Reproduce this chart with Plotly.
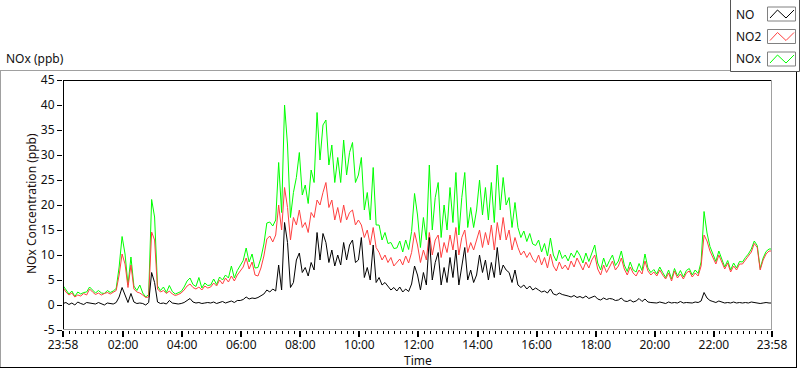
import plotly.graph_objects as go

# ---------------- data (6-minute samples from 23:58) ----------------
START_MIN = -2      # 23:58 of the previous day, minutes relative to 00:00
STEP_MIN = 6

no_ppb = [
    0.3, 0.5, 0.1, 0.4, 0.0, 0.6, 0.3, 0.1, 0.5, 0.4,        # 23:58
    0.4, 0.2, 0.5, 0.3, 0.0, 0.4, 0.3, 0.2, 0.5, 1.6,        # 00:58
    3.5, 2.0, 0.5, 2.3, 0.6, 0.3, 0.4, 0.3, 0.0, 0.5,        # 01:58
    6.5, 4.5, 0.6, 0.3, 0.4, 0.2, 0.9, 0.4, 0.3, 0.2,        # 02:58
    0.3, 0.5, 0.9, 1.3, 0.6, 0.4, 0.5, 0.3, 0.4, 0.5,        # 03:58
    0.4, 0.6, 0.3, 0.5, 0.7, 0.4, 0.6, 0.8, 0.5, 0.9,        # 04:58
    0.9, 1.1, 1.6, 1.2, 1.4, 1.3, 1.5, 1.8, 2.2, 3.0,        # 05:58
    2.6, 3.2, 2.8, 8.0, 3.0, 16.5, 12.5, 3.5, 4.5, 9.0,      # 06:58
    10.4, 6.5, 7.5, 5.8, 8.5, 7.0, 14.5, 9.0, 14.3, 12.5,    # 07:58
    8.5, 11.0, 7.8, 10.0, 8.0, 12.5, 9.0, 12.0, 13.0, 8.5,   # 08:58
    9.0, 13.5, 5.5, 7.5, 5.0, 12.0, 4.5, 5.5, 4.0, 4.5,      # 09:58
    3.8, 3.0, 3.5, 2.8, 3.6, 2.6, 3.2, 2.7, 4.2, 7.8,        # 10:58
    6.0, 3.0, 6.5, 4.0, 13.5, 5.0, 8.5, 10.5, 4.0, 7.5,      # 11:58
    4.5, 9.5, 5.5, 11.0, 4.0, 8.0, 11.5, 5.0, 7.0, 4.5,      # 12:58
    6.0, 10.0, 6.5, 9.0, 5.0, 8.5, 5.5, 11.5, 6.0, 8.0,      # 13:58
    7.0, 6.5, 4.5, 7.0, 4.0, 3.5, 4.0, 3.2, 3.8, 3.0,        # 14:58
    3.4, 3.0, 2.6, 2.8, 2.4, 3.2, 2.2, 2.0, 2.4, 2.1,        # 15:58
    2.0, 1.8, 1.6, 1.9, 1.5, 1.7, 1.4, 1.8, 1.3, 1.5,        # 16:58
    1.8, 1.2, 1.0, 1.4, 1.1, 1.3, 1.2, 0.9, 1.0, 1.4,        # 17:58
    0.8, 0.7, 1.0, 0.6, 0.8, 1.3, 0.7, 1.2, 0.6, 0.5,        # 18:58
    0.5, 0.4, 0.6, 0.5, 0.3, 0.6, 0.4, 0.5, 0.4, 0.7,        # 19:58
    0.4, 0.5, 0.5, 0.4, 0.6, 0.5, 0.8, 2.5, 1.4, 0.9,        # 20:58
    0.7, 0.5, 0.8, 0.6, 0.4, 0.5, 0.4, 0.6, 0.4, 0.5,        # 21:58
    0.4, 0.5, 0.4, 0.6, 0.5, 0.4, 0.3, 0.4, 0.5, 0.4,        # 22:58
    0.4,                                                     # 23:58
]

no2_ppb = [
    3.5, 2.6, 2.0, 2.4, 1.6, 2.0, 1.8, 2.3, 2.0, 3.2,
    2.6, 2.1, 2.4, 2.0, 2.3, 2.5, 2.2, 2.6, 2.9, 6.0,
    10.2, 8.2, 3.5, 8.0, 3.2, 2.6, 2.4, 2.0, 1.5, 1.6,
    14.6, 13.0, 3.2, 2.6, 2.9, 2.3, 2.8, 2.2, 1.9, 2.1,
    2.4, 3.0, 3.8, 4.2, 3.5, 3.2, 3.6, 3.0, 3.8, 3.4,
    3.6, 4.4, 3.8, 5.0, 4.2, 5.4, 4.6, 5.8, 4.8, 6.0,
    6.8, 7.6, 9.4, 7.2, 8.6, 6.0, 5.8, 7.4, 9.8, 13.2,
    13.8, 12.6, 14.0, 20.0, 15.0, 23.5, 19.5, 13.0, 17.5, 16.0,
    19.0, 15.5, 16.5, 14.5, 18.5, 17.5, 21.0, 20.0, 22.5, 24.5,
    19.5, 21.0, 17.0, 19.5, 16.5, 20.0, 17.0, 18.5, 19.0, 16.0,
    17.0, 16.0, 13.5, 15.0, 12.0, 15.5, 11.5, 10.5, 9.0, 10.0,
    8.5, 9.5, 7.8, 8.6, 9.2, 8.0, 9.8, 8.4, 10.5, 14.5,
    12.0, 8.5, 11.0, 9.0, 14.5, 10.0, 13.0, 14.0, 9.5, 12.5,
    10.5, 14.0, 11.0, 15.5, 10.0, 13.5, 15.0, 10.5, 12.5, 11.0,
    13.0, 15.0, 11.5, 14.5, 12.0, 16.0, 11.0, 16.5, 13.0, 17.5,
    13.0, 15.0, 11.0, 13.5, 11.5, 10.0, 10.8, 9.5, 10.5, 9.2,
    8.5, 10.0, 8.0, 9.5, 7.4, 10.2, 7.8, 6.8, 8.6, 7.2,
    8.0, 7.0, 8.8, 7.6, 9.4, 8.2, 7.0, 8.6, 7.4, 9.0,
    10.0, 7.2, 6.0, 8.0, 6.5, 7.6, 8.8, 7.0, 7.8, 9.4,
    7.2, 6.0, 7.6, 6.4, 5.8, 7.0, 6.2, 8.8, 6.8, 6.0,
    6.6, 5.8, 7.0, 6.0, 5.2, 6.4, 4.8, 6.8, 5.4, 6.2,
    5.2, 6.4, 6.8, 5.6, 6.4, 5.8, 7.8, 14.0, 12.8, 10.8,
    9.5, 8.2, 10.0, 8.6, 7.2, 8.4, 6.6, 7.8, 7.0, 8.2,
    8.2, 9.0, 9.8, 10.6, 12.3, 11.5, 7.0, 9.0, 10.2, 10.8,
    10.8,
]

nox_ppb = [
    3.9, 3.1, 2.2, 2.8, 1.7, 2.6, 2.2, 2.5, 2.6, 3.6,
    3.0, 2.4, 2.9, 2.4, 2.3, 2.9, 2.5, 2.8, 3.3, 7.6,
    13.7, 10.2, 4.0, 9.6, 3.8, 2.9, 4.0, 2.4, 1.6, 2.1,
    21.1, 17.6, 3.8, 2.9, 3.6, 2.5, 3.9, 2.7, 2.2, 2.4,
    2.7, 3.6, 4.8, 5.4, 4.1, 3.7, 5.5, 3.4, 4.4, 3.9,
    4.0, 5.2, 4.1, 5.6, 5.0, 6.0, 5.4, 7.8, 5.4, 6.9,
    7.8, 8.9, 11.4, 8.6, 10.2, 7.4, 7.5, 9.4, 12.2, 16.4,
    16.6, 15.8, 17.0, 28.5, 18.5, 40.0, 32.0, 17.5, 22.5, 25.5,
    30.5, 22.0, 24.0, 20.3, 27.0, 24.5, 38.5, 29.0, 36.0, 37.0,
    28.0, 32.0, 24.5, 29.5, 24.5, 33.0, 26.0, 30.5, 32.5, 24.5,
    26.0, 29.5, 19.0, 22.5, 17.0, 27.5, 16.0, 16.0, 13.0, 14.5,
    12.3, 12.5, 11.3, 11.4, 12.8, 10.6, 13.0, 11.1, 14.7, 22.3,
    18.0, 11.5, 17.5, 13.0, 28.0, 15.0, 21.5, 24.5, 13.5, 20.0,
    15.0, 23.5, 16.5, 26.5, 14.0, 21.5, 26.5, 15.5, 19.5, 15.5,
    19.0, 25.0, 18.0, 23.5, 17.0, 24.5, 16.5, 28.0, 19.0, 25.5,
    20.0, 21.5, 15.5, 20.5, 15.5, 13.5, 14.8, 12.7, 14.3, 12.2,
    11.9, 13.0, 10.6, 12.3, 9.8, 13.4, 10.0, 8.8, 11.0, 9.3,
    10.0, 8.8, 10.4, 9.5, 10.9, 9.9, 8.4, 10.4, 8.7, 10.5,
    12.0, 8.4, 7.0, 9.4, 7.6, 8.9, 10.0, 7.9, 8.8, 10.8,
    8.0, 6.7, 8.6, 7.0, 6.6, 8.3, 6.9, 10.2, 7.4, 6.5,
    7.1, 6.2, 7.6, 6.5, 5.5, 7.0, 5.2, 7.3, 5.8, 6.9,
    5.6, 6.9, 7.3, 6.0, 7.0, 6.3, 8.6, 18.7, 14.4, 11.7,
    10.2, 8.7, 10.8, 9.2, 7.6, 8.9, 7.0, 8.4, 7.4, 8.7,
    8.6, 9.5, 10.2, 11.2, 12.8, 11.9, 7.3, 9.4, 10.7, 11.2,
    11.2,
]

series_names = ["NO", "NO2", "NOx"]
series_colors = ["#000000", "#ff4040", "#00ff00"]

x_tick_minutes = [-2, 120, 240, 360, 480, 600, 720, 840, 960, 1080, 1200, 1320, 1438]
x_tick_labels = ["23:58", "02:00", "04:00", "06:00", "08:00", "10:00", "12:00",
                 "14:00", "16:00", "18:00", "20:00", "22:00", "23:58"]
y_tick_values = [45, 40, 35, 30, 25, 20, 15, 10, 5, 0, -5]
y_tick_labels = ["45", "40", "35", "30", "25", "20", "15", "10", "5", "0", "-5"]

minutes = [START_MIN + STEP_MIN * i for i in range(len(no_ppb))]

# ---------------- figure ----------------
W, H = 800, 369
L, R, T, B = 63, 28, 80, 39
PW, PH = W - L - R, H - T - B
FONT = "Segoe UI, Noto Sans, Open Sans, sans-serif"


def px(xpix):
    return (xpix - L) / PW


def py(ypix):
    return (H - B - ypix) / PH


fig = go.Figure()
values = {"NO": no_ppb, "NO2": no2_ppb, "NOx": nox_ppb}
for name in ["NOx", "NO2", "NO"]:
    fig.add_trace(go.Scatter(
        x=minutes, y=values[name], mode="lines", name=name,
        line=dict(color=series_colors[series_names.index(name)], width=1),
        showlegend=False, hoverinfo="skip",
    ))

shapes = []


def line(x0, y0, x1, y1, color, width=1):
    shapes.append(dict(type="line", xref="paper", yref="paper",
                       x0=px(x0), y0=py(y0), x1=px(x1), y1=py(y1),
                       line=dict(color=color, width=width), layer="above"))


# outer panel
line(0, 70.5, 731, 70.5, "#a0a0a0")
line(0.5, 70.5, 0.5, 367.5, "#a0a0a0")
line(0, 367.5, 797, 367.5, "#000000")
line(796.5, 72, 796.5, 368, "#000000")
# plot frame
line(63, 80.5, 772, 80.5, "#000000")
line(63.5, 80, 63.5, 330, "#000000")
line(771.5, 80, 771.5, 330, "#a0a0a0")
line(63, 329.5, 772, 329.5, "#a0a0a0")

# legend box
shapes.append(dict(type="rect", xref="paper", yref="paper",
                   x0=px(730.5), y0=py(-1), x1=px(799.5), y1=py(71.5),
                   line=dict(color="#555555", width=1), fillcolor="white", layer="above"))

annotations = []
for i, name in enumerate(series_names):
    cy = 14 + 22.5 * i
    color = series_colors[i]
    shapes.append(dict(type="rect", xref="paper", yref="paper",
                       x0=px(767.5), y0=py(cy - 7), x1=px(795.5), y1=py(cy + 7),
                       line=dict(color="#808080", width=1), fillcolor="white", layer="above"))
    path = "M {:.5f},{:.5f} L {:.5f},{:.5f} L {:.5f},{:.5f} L {:.5f},{:.5f}".format(
        px(770), py(cy + 4), px(777.5), py(cy - 4), px(786), py(cy + 4), px(794), py(cy - 4))
    shapes.append(dict(type="path", xref="paper", yref="paper", path=path,
                       line=dict(color=color, width=1), layer="above"))
    annotations.append(dict(xref="paper", yref="paper", x=px(735), y=py(cy),
                            xanchor="left", yanchor="middle", text=name, showarrow=False,
                            borderpad=0,
                            font=dict(family=FONT, size=12, color="#101010")))

annotations.append(dict(xref="paper", yref="paper", x=px(5), y=py(59),
                        xanchor="left", yanchor="middle", text="NOx (ppb)", showarrow=False,
                        borderpad=0,
                        font=dict(family=FONT, size=12, color="#101010")))
annotations.append(dict(xref="paper", yref="paper", x=px(417.5), y=py(360.3),
                        xanchor="center", yanchor="middle", text="Time", showarrow=False,
                        borderpad=0,
                        font=dict(family=FONT, size=12, color="#101010")))
annotations.append(dict(xref="paper", yref="paper", x=px(31), y=py(204),
                        xanchor="center", yanchor="middle", text="NOx Concentration (ppb)",
                        textangle=-90, showarrow=False, borderpad=0,
                        font=dict(family=FONT, size=12, color="#201010")))

fig.update_layout(
    width=W, height=H,
    margin=dict(l=L, r=R, t=T, b=B, pad=0),
    paper_bgcolor="white", plot_bgcolor="white",
    font=dict(family=FONT, size=12, color="#101010"),
    shapes=shapes, annotations=annotations,
    showlegend=False,
    xaxis=dict(
        range=[START_MIN, 1438], showgrid=False, zeroline=False, showline=False,
        tickmode="array", tickvals=x_tick_minutes, ticktext=x_tick_labels,
        ticks="outside", ticklen=6, tickwidth=2, tickcolor="#000000",
        ticklabelstandoff=-2,
        tickfont=dict(family=FONT, size=12, color="#101010"),
        minor=dict(tick0=0, dtick=12, ticks="outside", ticklen=3, tickwidth=1,
                   tickcolor="#000000", showgrid=False),
        fixedrange=True,
    ),
    yaxis=dict(
        range=[-5, 45], showgrid=False, zeroline=False, showline=False,
        tickmode="array", tickvals=y_tick_values, ticktext=y_tick_labels,
        ticks="outside", ticklen=5, tickwidth=1, tickcolor="#000000",
        tickfont=dict(family=FONT, size=12, color="#101010"),
        fixedrange=True,
    ),
)

fig.write_html(
    "out.html",
    config={"displayModeBar": False},
    post_script="document.body.style.margin='0';document.body.style.padding='0';"
                "document.documentElement.style.overflow='hidden';",
)
